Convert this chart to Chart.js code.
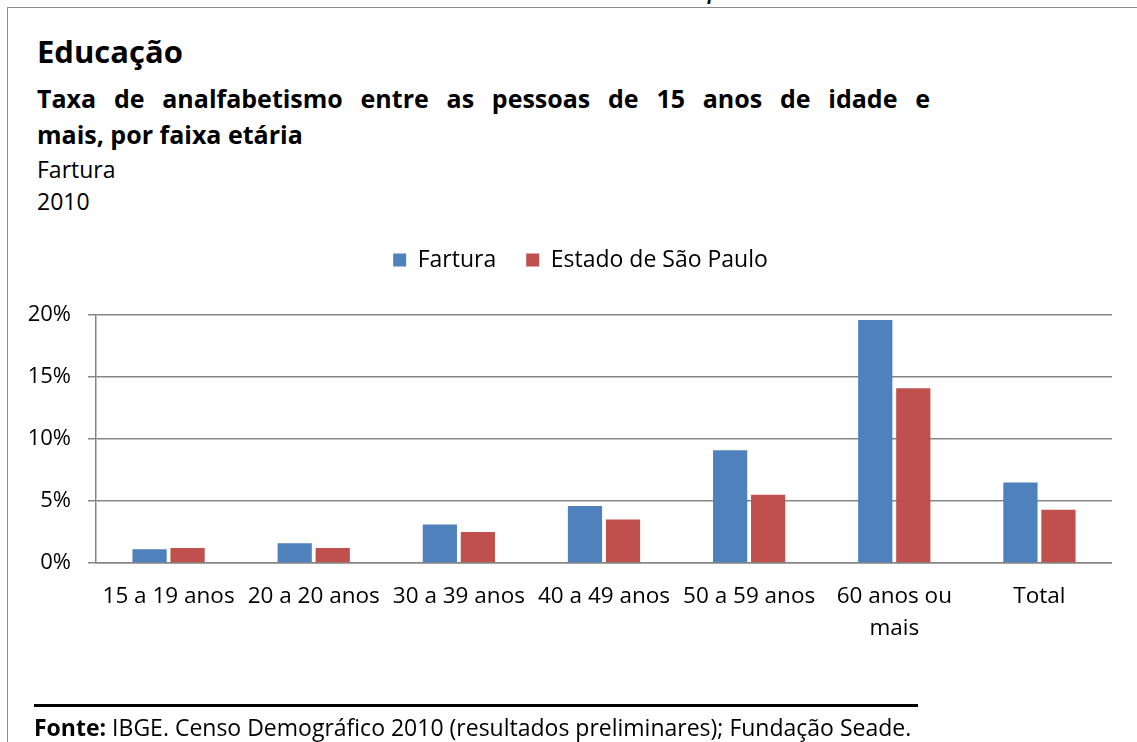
<!DOCTYPE html>
<html>
<head>
<meta charset="utf-8">
<script src="https://cdn.jsdelivr.net/npm/chart.js@4.4.1/dist/chart.umd.min.js"></script>
<style>
  html, body { margin: 0; padding: 0; background: #fff; }
  body { width: 1137px; height: 742px; position: relative; overflow: hidden; font-family: "Open Sans", sans-serif; color: #000; }
  .abs { position: absolute; white-space: nowrap; }
  #box { position: absolute; left: 7px; top: 7px; width: 1200px; height: 800px; border-left: 1.5px solid #8c8c8c; border-top: 1.5px solid #8c8c8c; }
  #topline { left: 127px; top: -29px; font-family: "Liberation Sans", Arial, sans-serif; font-style: italic; font-size: 30px; line-height: 34px; }
  #title { left: 37px; top: 30px; font-weight: bold; font-size: 31px; line-height: 42px; }
  #sub1 { left: 37px; top: 80px; width: 893px; font-weight: bold; font-size: 25px; line-height: 36px; text-align: justify; text-align-last: justify; white-space: normal; }
  #sub2 { left: 37px; top: 116px; font-weight: bold; font-size: 25px; line-height: 36px; }
  #place { left: 37px; top: 153px; font-size: 23px; line-height: 32px; }
  #rule { position: absolute; left: 34px; top: 704px; width: 884px; height: 3px; background: #000; }
  #fonte { left: 34px; top: 712px; font-size: 23px; line-height: 30px; }
  #wrap { position: absolute; left: 0; top: 0; width: 1112px; height: 742px; }
</style>
</head>
<body>
<div id="box"></div>
<div class="abs" id="topline">Gráfico 3 – Taxa de analfabetismo entre as pessoas de 15 anos e mais</div>
<div class="abs" id="title">Educação</div>
<div class="abs" id="sub1">Taxa de analfabetismo entre as pessoas de 15 anos de idade e</div>
<div class="abs" id="sub2">mais, por faixa etária</div>
<div class="abs" id="place">Fartura<br>2010</div>
<div id="wrap"><canvas id="c"></canvas></div>
<div id="rule"></div>
<div class="abs" id="fonte"><b>Fonte:</b> IBGE. Censo Demográfico 2010 (resultados preliminares); Fundação Seade.</div>
<script>
const categories = ["15 a 19 anos", "20 a 20 anos", "30 a 39 anos", "40 a 49 anos", "50 a 59 anos", ["60 anos ou", "mais"], "Total"];
const fartura = [1.1, 1.6, 3.1, 4.6, 9.1, 19.6, 6.5];
const estadoSP = [1.2, 1.2, 2.5, 3.5, 5.5, 14.1, 4.3];
const yTicks = [0, 5, 10, 15, 20];

const FONT = "'Open Sans', sans-serif";
const GRID = "#868686";

const legendShift = {
  id: 'legendShift',
  afterLayout(chart) {
    const l = chart.legend;
    if (!l) return;
    const lab = l.options.labels;
    const itemH = Math.max(lab.boxHeight, lab.font.size);
    const dy = 260 - (l.top + lab.padding + itemH / 2);
    const dx = 580.5 - (l.left + l.right) / 2;
    l.top += dy; l.bottom += dy; l.left += dx; l.right += dx;
  }
};

new Chart(document.getElementById('c'), {
  type: 'bar',
  data: {
    labels: categories,
    datasets: [
      { label: 'Fartura', data: fartura, backgroundColor: '#4F81BD', borderWidth: 0 },
      { label: 'Estado de São Paulo', data: estadoSP, backgroundColor: '#C0504D', borderWidth: 0 }
    ]
  },
  plugins: [legendShift],
  options: {
    responsive: true,
    maintainAspectRatio: false,
    animation: false,
    devicePixelRatio: 1,
    layout: { padding: { top: 252, left: 0, right: 0, bottom: 0 } },
    datasets: { bar: { categoryPercentage: 0.524, barPercentage: 0.9 } },
    plugins: {
      legend: {
        position: 'top',
        align: 'center',
        labels: {
          boxWidth: 13, boxHeight: 13, padding: 30,
          color: '#000',
          font: { family: FONT, size: 23 }
        }
      },
      tooltip: { enabled: false },
      title: { display: false }
    },
    scales: {
      x: {
        grid: { display: false },
        border: { display: true, color: GRID, width: 1.5 },
        ticks: { color: '#000', font: { family: FONT, size: 22.5, lineHeight: 32 / 22.5 }, padding: 10, maxRotation: 0, autoSkip: false },
        afterFit: s => { s.height = 742 - 563; }
      },
      y: {
        min: 0, max: 20,
        afterBuildTicks: s => { s.ticks = yTicks.map(v => ({ value: v })); },
        grid: { color: GRID, lineWidth: 1.5, tickLength: 8, drawTicks: true },
        border: { display: true, color: GRID, width: 1.5 },
        ticks: { color: '#000', font: { family: FONT, size: 22 }, padding: 17, callback: v => v + '%' },
        afterFit: s => { s.width = 96; }
      }
    }
  }
});
</script>
</body>
</html>
